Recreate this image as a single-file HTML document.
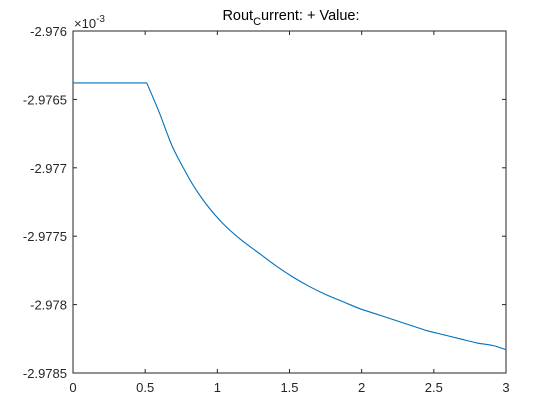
<!DOCTYPE html>
<html><head><meta charset="utf-8"><style>
body{margin:0;background:#fff;}
svg{display:block;font-family:"Liberation Sans",Arial,sans-serif;}
</style></head><body>
<svg id="chart" width="560" height="420">
<rect width="560" height="420" fill="#fff"/>
<g id="axes"></g>
</svg>
<script>
const xValues=[0,0.5,0.511,0.556,0.603,0.649,0.695,0.764,0.834,0.926,1.041,1.157,1.296,1.411,1.526,1.642,1.758,1.873,1.988,2.104,2.219,2.335,2.451,2.566,2.681,2.797,2.912,3];
const yValues=[-2.97638,-2.97638,-2.97638,-2.97649,-2.97661,-2.97674,-2.97686,-2.97700,-2.97713,-2.97727,-2.97741,-2.97752,-2.97763,-2.97772,-2.97780,-2.97787,-2.97793,-2.97798,-2.97803,-2.97807,-2.97811,-2.97815,-2.97819,-2.97822,-2.97825,-2.97828,-2.97830,-2.97833];
const xTicks=[0,0.5,1,1.5,2,2.5,3];
const xTickLabels=["0","0.5","1","1.5","2","2.5","3"];
const yTicks=[-2.976,-2.9765,-2.977,-2.9775,-2.978,-2.9785];
const yTickLabels=["-2.976","-2.9765","-2.977","-2.9775","-2.978","-2.9785"];
const L=73,R=506,T=31,B=373;
const xMin=0,xMax=3,yMin=-2.9785,yMax=-2.976;
const sx=v=>L+(v-xMin)/(xMax-xMin)*(R-L);
const sy=v=>B-(v-yMin)/(yMax-yMin)*(B-T);
const NS="http://www.w3.org/2000/svg";
const g=document.getElementById('axes');
function mk(tag,attrs,text){const e=document.createElementNS(NS,tag);for(const k in attrs)e.setAttribute(k,attrs[k]);if(text!==undefined)e.textContent=text;g.appendChild(e);return e;}
let e=mk('rect',{x:L,y:T,width:R-L,height:B-T,fill:'none',stroke:'#262626','stroke-width':1});


xTicks.forEach((t,i)=>{
 const x=sx(t);
 let a=mk('line',{x1:x,x2:x,y1:B,y2:B-4,stroke:'#262626'});
 
 
 let b=mk('line',{x1:x,x2:x,y1:T,y2:T+4,stroke:'#262626'});
 
 
 let l=mk('text',{x:x,y:B+19,'text-anchor':'middle','font-size':13,fill:'#262626'},xTickLabels[i]);
 
 
});
yTicks.forEach((t,i)=>{
 const y=sy(t);
 let a=mk('line',{x1:L,x2:L+4,y1:y,y2:y,stroke:'#262626'});
 
 
 let b=mk('line',{x1:R,x2:R-4,y1:y,y2:y,stroke:'#262626'});
 
 
 let l=mk('text',{x:L-6,y:y+5,'text-anchor':'end','font-size':13,fill:'#262626'},yTickLabels[i]);
 
 
});
let ex=mk('text',{x:L+1,y:T-3,'font-size':13,fill:'#262626'});
ex.innerHTML='<tspan>\u00d710</tspan><tspan dy="-6" font-size="10">-3</tspan>';


let ti=mk('text',{x:291,y:20,'text-anchor':'middle','font-size':14.5,fill:'#000'});
ti.innerHTML='Rout<tspan dy="5" font-size="11">C</tspan><tspan dy="-5">urrent: + Value:</tspan>';


// smooth path: straight flat segment, then Catmull-Rom through the decay points
const P=xValues.map((x,i)=>[sx(x),sy(yValues[i])]);
let d='M'+P[0][0].toFixed(2)+','+P[0][1].toFixed(2)+' L'+P[2][0].toFixed(2)+','+P[2][1].toFixed(2);
for(let i=2;i<P.length-1;i++){
 const p0=P[Math.max(i-1,2)],p1=P[i],p2=P[i+1],p3=P[Math.min(i+2,P.length-1)];
 const c1=[p1[0]+(p2[0]-p0[0])/6,p1[1]+(p2[1]-p0[1])/6];
 const c2=[p2[0]-(p3[0]-p1[0])/6,p2[1]-(p3[1]-p1[1])/6];
 d+=' C'+c1.map(v=>v.toFixed(2)).join(',')+' '+c2.map(v=>v.toFixed(2)).join(',')+' '+p2.map(v=>v.toFixed(2)).join(',');
}
let ln=mk('path',{d:d,fill:'none',stroke:'#0072bd','stroke-width':1.1,'stroke-linejoin':'round'});


</script>
</body></html>
